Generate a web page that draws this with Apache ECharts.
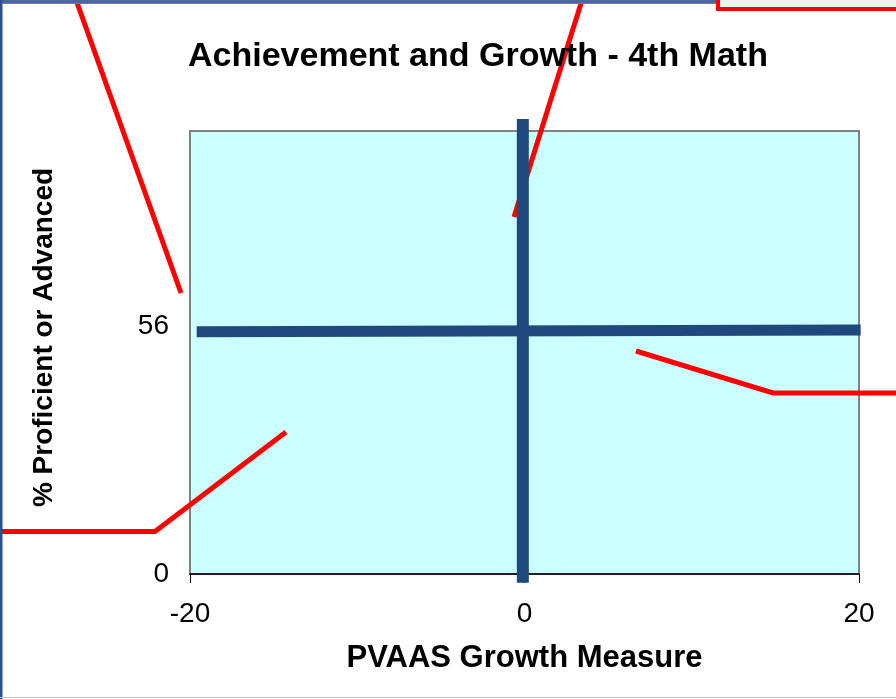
<!DOCTYPE html>
<html>
<head>
<meta charset="utf-8">
<script src="https://cdn.jsdelivr.net/npm/echarts@6/dist/echarts.min.js"></script>
<style>
  html, body { margin: 0; padding: 0; background: #fff; }
  #chart { width: 896px; height: 699px; }
</style>
</head>
<body>
<div id="chart"></div>
<script>
// axis ticks
const xTicks = [-20, 0, 20]
const yTicks = [0, 56]

// quadrant divider lines (x, y)
const growthLine = [[-19.6, 54.7], [20.1, 55.1]]
const achieveLine = [[-0.1, -2], [-0.1, 102.7]]

const fontFamily = "'Liberation Sans', Arial, sans-serif"
const blue = '#1F497D'

// red callout lines drawn over the screenshot (pixels)
const callouts = [
  [[75, -3], [181, 293]],
  [[583, -3], [514, 217]],
  [[636, 351], [773, 393], [900, 393]],
  [[-3, 531.5], [155, 531.5], [286, 432]]
]

const chart = echarts.init(document.getElementById('chart'))

const option = {
  animation: false,
  backgroundColor: '#fff',
  title: {
    text: 'Achievement and Growth - 4th Math',
    left: 188,
    top: 40,
    padding: 0,
    textStyle: { fontFamily, fontSize: 34, fontWeight: 'bold', color: '#000' }
  },
  grid: {
    left: 190,
    right: 37,
    top: 131,
    bottom: 125,
    show: true,
    backgroundColor: '#CCFFFF',
    borderColor: '#808080',
    borderWidth: 2
  },
  xAxis: {
    type: 'value',
    min: -20,
    max: 20,
    interval: 20,
    name: 'PVAAS Growth Measure',
    nameLocation: 'middle',
    nameGap: 69,
    nameTextStyle: { fontFamily, fontSize: 31, fontWeight: 'bold', color: '#000' },
    axisLine: { show: true, lineStyle: { color: '#000', width: 1.5 } },
    axisTick: { show: true, length: 9, lineStyle: { color: '#000' }, customValues: xTicks },
    axisLabel: { fontFamily, fontSize: 28, color: '#000', margin: 26, customValues: xTicks },
    splitLine: { show: false }
  },
  yAxis: {
    type: 'value',
    min: 0,
    max: 100,
    name: '% Proficient or Advanced',
    nameLocation: 'middle',
    nameGap: 132,
    nameTextStyle: { fontFamily, fontSize: 28, fontWeight: 'bold', color: '#000', padding: [0, 0, 0, 30] },
    axisLine: { show: true, lineStyle: { color: '#000', width: 1.5 } },
    axisTick: { show: true, length: 10, lineStyle: { color: '#000' }, customValues: yTicks },
    axisLabel: { fontFamily, fontSize: 28, color: '#000', margin: 21, customValues: yTicks },
    splitLine: { show: false }
  },
  series: [
    {
      type: 'line',
      data: growthLine,
      clip: false,
      symbol: 'none',
      lineStyle: { color: blue, width: 11, cap: 'butt' },
      z: 3
    },
    {
      type: 'line',
      data: achieveLine,
      clip: false,
      symbol: 'none',
      lineStyle: { color: blue, width: 12, cap: 'butt' },
      z: 4
    }
  ],
  graphic: [
    // window frame
    { type: 'rect', shape: { x: 0, y: 0, width: 716, height: 3 }, style: { fill: '#4A66A8' }, z: 10 },
    { type: 'line', shape: { x1: 0, y1: 3.5, x2: 716, y2: 3.5 }, style: { stroke: '#7A7A7A', lineWidth: 1 }, z: 10 },
    { type: 'rect', shape: { x: 0, y: 0, width: 2.5, height: 699 }, style: { fill: '#2F4F8F' }, z: 10 },
    { type: 'line', shape: { x1: 0, y1: 697.5, x2: 896, y2: 697.5 }, style: { stroke: '#C8C8C8', lineWidth: 1 }, z: 10 },
    // callout box at top right
    { type: 'rect', shape: { x: 718, y: -20, width: 200, height: 29 }, style: { fill: '#F3F2EC', stroke: '#FF0000', lineWidth: 4 }, z: 11 }
  ].concat(callouts.map(pts => ({
    type: 'polyline',
    shape: { points: pts },
    style: { stroke: '#FF0000', lineWidth: 5, fill: null },
    z: 1
  })))
}

chart.setOption(option)
</script>
</body>
</html>
